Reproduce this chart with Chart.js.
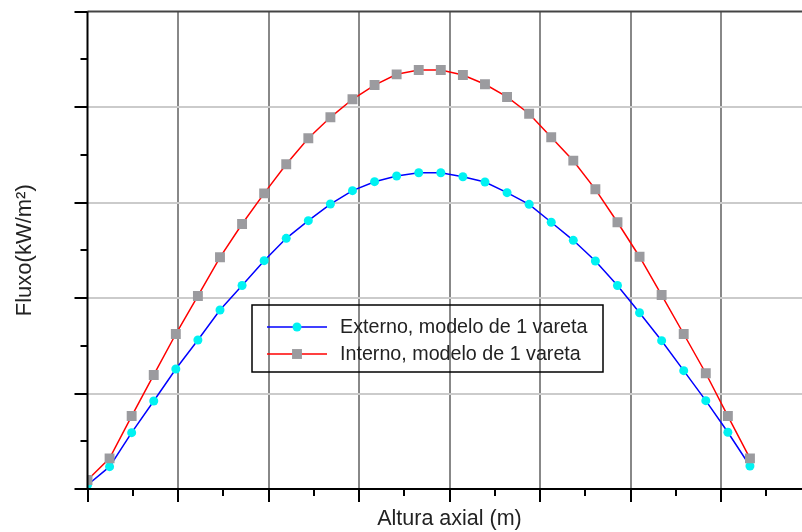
<!DOCTYPE html>
<html>
<head>
<meta charset="utf-8">
<script src="https://cdn.jsdelivr.net/npm/chart.js@4"></script>
<style>
  html, body { margin: 0; padding: 0; background: #fff; overflow: hidden; }
  #wrap { position: absolute; left: 0; top: 0; width: 830px; height: 532px; }
</style>
</head>
<body>
<div id="wrap"><canvas id="fluxChart" width="830" height="532"></canvas></div>
<script>
// --- DATA ---
// axial position along the rod (m)
const alturas = [0, 0.122, 0.244, 0.366, 0.488, 0.61, 0.732, 0.854, 0.976, 1.098,
                 1.22, 1.342, 1.464, 1.586, 1.708, 1.83, 1.952, 2.074, 2.196, 2.318,
                 2.44, 2.562, 2.684, 2.806, 2.928, 3.05, 3.172, 3.294, 3.416, 3.538, 3.66];

const fluxoExterno = [4.2, 23.4, 59.0, 92.1, 125.7, 156.0, 187.4, 213.1, 239.1, 262.5,
                      281.0, 298.4, 312.4, 321.8, 327.7, 331.2, 331.2, 327.0, 321.5, 310.3,
                      298.1, 279.3, 260.4, 238.7, 213.1, 184.6, 155.3, 123.9, 92.5, 59.4, 24.1];

const fluxoInterno = [9.4, 32.1, 76.4, 119.4, 162.3, 202.1, 242.6, 277.5, 309.6, 340.0,
                      367.2, 389.2, 408.1, 423.0, 434.2, 438.7, 438.7, 433.5, 423.8, 410.5,
                      393.0, 368.3, 343.8, 313.8, 279.3, 243.2, 203.1, 162.3, 121.2, 76.4, 32.1];

const seriesLabels = ["Externo, modelo de 1 vareta", "Interno, modelo de 1 vareta"];
const xTitle = "Altura axial (m)";
const yTitle = "Fluxo(kW/m²)";

const xMin = 0, xMax = 4, xMajor = 0.5, xMinor = 0.25;
const yMin = 0, yMax = 500, yMajor = 100, yMinor = 50;

const FONT = "'Liberation Sans', Arial, sans-serif";

function isMajor(v, step) {
    return Math.abs(v / step - Math.round(v / step)) < 1e-6;
}

function toPoints(xs, ys) {
    return xs.map((x, i) => ({ x: x, y: ys[i] }));
}

// axis frame + major/minor tick marks (outside)
const axisFrame = {
    id: 'axisFrame',
    afterDatasetsDraw(chart) {
        const ctx = chart.ctx;
        const a = chart.chartArea;
        const xs = chart.scales.x, ys = chart.scales.y;
        ctx.save();
        ctx.lineWidth = 2;
        ctx.strokeStyle = '#444';
        ctx.beginPath();
        ctx.moveTo(a.left, a.top);
        ctx.lineTo(a.right, a.top);
        ctx.stroke();

        ctx.strokeStyle = '#000';
        ctx.beginPath();
        ctx.moveTo(a.left, a.top);
        ctx.lineTo(a.left, a.bottom);
        ctx.lineTo(a.right, a.bottom);
        ctx.stroke();

        xs.ticks.forEach(t => {
            const px = Math.round(xs.getPixelForValue(t.value));
            const len = isMajor(t.value, xMajor) ? 13 : 7;
            ctx.beginPath();
            ctx.moveTo(px, a.bottom);
            ctx.lineTo(px, a.bottom + len);
            ctx.stroke();
        });
        ys.ticks.forEach(t => {
            const py = Math.round(ys.getPixelForValue(t.value));
            const len = isMajor(t.value, yMajor) ? 13 : 7;
            ctx.beginPath();
            ctx.moveTo(a.left, py);
            ctx.lineTo(a.left - len, py);
            ctx.stroke();
        });
        ctx.restore();
    }
};

// boxed legend inside the plot (transparent background)
const boxLegend = {
    id: 'boxLegend',
    afterDraw(chart) {
        const ctx = chart.ctx;
        const box = { x: 252, y: 305, w: 351, h: 67 };
        ctx.save();
        ctx.strokeStyle = '#000';
        ctx.lineWidth = 1.5;
        ctx.strokeRect(box.x, box.y, box.w, box.h);

        chart.data.datasets.forEach((ds, i) => {
            const cy = box.y + 22 + i * 27;
            const mx = box.x + 45;
            ctx.strokeStyle = ds.borderColor;
            ctx.lineWidth = ds.borderWidth;
            ctx.beginPath();
            ctx.moveTo(box.x + 15, cy);
            ctx.lineTo(box.x + 75, cy);
            ctx.stroke();

            ctx.fillStyle = ds.pointBackgroundColor;
            ctx.beginPath();
            if (ds.pointStyle === 'rect') {
                const s = ds.pointRadius * Math.SQRT1_2;
                ctx.rect(mx - s, cy - s, 2 * s, 2 * s);
            } else {
                ctx.arc(mx, cy, ds.pointRadius, 0, Math.PI * 2);
            }
            ctx.fill();

            ctx.fillStyle = '#222';
            ctx.font = "19.7px " + FONT;
            ctx.textBaseline = 'middle';
            ctx.textAlign = 'left';
            ctx.fillText(ds.label, box.x + 88, cy + 1);
        });
        ctx.restore();
    }
};

const ctxFlux = document.getElementById('fluxChart').getContext('2d');
new Chart(ctxFlux, {
    type: 'line',
    data: {
        datasets: [{
            label: seriesLabels[0],
            data: toPoints(alturas, fluxoExterno),
            borderColor: '#0000ff',
            borderWidth: 1.5,
            pointStyle: 'circle',
            pointRadius: 4.5,
            pointBackgroundColor: '#00f2f2',
            pointBorderWidth: 0,
            tension: 0,
            order: 1
        }, {
            label: seriesLabels[1],
            data: toPoints(alturas, fluxoInterno),
            borderColor: '#ff0000',
            borderWidth: 1.5,
            pointStyle: 'rect',
            pointRadius: 7,
            pointBackgroundColor: '#9b9b9f',
            pointBorderWidth: 0,
            tension: 0,
            order: 0
        }]
    },
    options: {
        responsive: false,
        animation: false,
        layout: { padding: { left: 0, top: 11.5, right: 18.5, bottom: 0 } },
        plugins: {
            legend: { display: false },
            tooltip: { enabled: false }
        },
        scales: {
            x: {
                type: 'linear',
                min: xMin,
                max: xMax,
                ticks: { stepSize: xMinor, display: false },
                grid: {
                    drawTicks: false,
                    lineWidth: 2,
                    color: c => (c.tick && isMajor(c.tick.value, xMajor) && c.tick.value > xMin && c.tick.value < xMax) ? '#888888' : 'rgba(0,0,0,0)'
                },
                border: { display: false },
                title: {
                    display: true,
                    text: xTitle,
                    color: '#222',
                    font: { family: FONT, size: 21.5 },
                    padding: { top: 0, bottom: 0 }
                },
                afterFit: s => { s.height = 43; }
            },
            y: {
                min: yMin,
                max: yMax,
                ticks: { stepSize: yMinor, display: false },
                grid: {
                    drawTicks: false,
                    lineWidth: 2,
                    color: c => (c.tick && isMajor(c.tick.value, yMajor) && c.tick.value > yMin && c.tick.value < yMax) ? '#cbcbcb' : 'rgba(0,0,0,0)'
                },
                border: { display: false },
                title: {
                    display: true,
                    text: yTitle,
                    color: '#222',
                    font: { family: FONT, size: 22 },
                    padding: { top: 12, bottom: 0 }
                },
                afterFit: s => { s.width = 87.5; }
            }
        }
    },
    plugins: [axisFrame, boxLegend]
});
</script>
</body>
</html>
